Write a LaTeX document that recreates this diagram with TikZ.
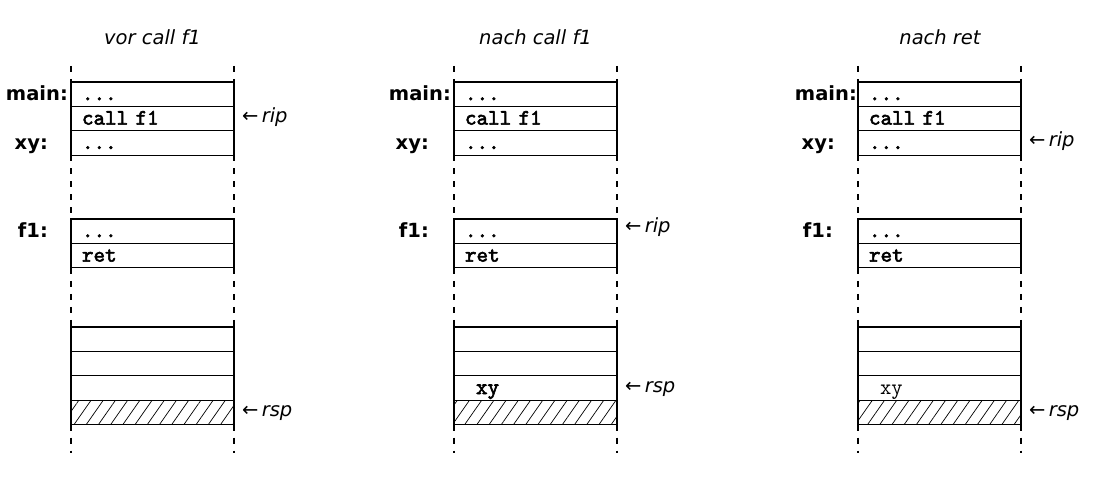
\documentclass[tikz,border=0pt]{standalone}
\usepackage{fontspec}
\setmainfont{DejaVu Sans}
\newfontfamily\codebf{lmmono10-regular}[Extension=.otf, FakeBold=2.6]
\usetikzlibrary{positioning,patterns.meta}
\newcommand\codefont{\fontsize{22pt}{24pt}\selectfont\codebf}
\newcommand\codereg{\fontsize{22pt}{24pt}\selectfont\ttfamily}
\newcommand\lblfont{\fontsize{19.5pt}{22pt}\selectfont\bfseries}
\newcommand\ptrfont{\fontsize{19.5pt}{22pt}\selectfont}
\newcommand\ptrtext[1]{←\,\textit{#1}}
\begin{document}
\begin{tikzpicture}[x=1pt,y=-1pt,
 row/.style={draw, line width=1.1pt, minimum width=163pt, minimum height=24.4pt,
   text width=141pt, inner xsep=11pt, inner ysep=0pt, outer sep=0pt, align=left,
   text height=15pt, text depth=3pt, font=\codefont},
 hatched/.style={row, pattern={Lines[angle=55,distance=10pt,line width=0.7pt]}},
 lbl/.style={font=\lblfont, inner sep=0pt, anchor=base east},
 ptr/.style={font=\ptrfont, inner sep=0pt, anchor=base west},
 ttl/.style={font=\ptrfont\itshape, inner sep=0pt, anchor=base},
 guide/.style={line width=1.1pt, dash pattern=on 6pt off 7pt}]
\useasboundingbox (0,0) rectangle (1102,478);

% ---------- column A: vor call f1 ----------
\node[ttl] (atitle) at (152.5,45) {vor call f1};
\node[row] (amain) at (152.5,94.2) {...};
\node[row, below=0pt of amain] (acall) {call f1};
\node[row, below=0pt of acall] (axy) {...};
\node[row] (af1) at (152.5,231.2) {...};
\node[row, below=0pt of af1] (aret) {ret};
\node[row] (as1) at (152.5,339.2) {};
\node[row, below=0pt of as1] (as2) {};
\node[row, below=0pt of as2] (as3) {};
\node[hatched, below=0pt of as3] (as4) {};
\coordinate (atl) at (71,66);
\coordinate (atr) at (234,66);
\coordinate (abl) at (71,453);
\coordinate (abr) at (234,453);
\draw[guide] (atl) -- (amain.north west);
\draw[guide] (atr) -- (amain.north east);
\draw[guide] (axy.south west) -- (af1.north west);
\draw[guide] (axy.south east) -- (af1.north east);
\draw[guide] (aret.south west) -- (as1.north west);
\draw[guide] (aret.south east) -- (as1.north east);
\draw[guide] (as4.south west) -- (abl);
\draw[guide] (as4.south east) -- (abr);
\node[lbl] (alm) at ([xshift=-3pt,yshift=-6.5pt]amain.west) {main:};
\node[lbl] (alx) at ([xshift=-23pt,yshift=-6.5pt]axy.west) {xy:};
\node[lbl] (alf) at ([xshift=-23pt,yshift=-6pt]af1.west) {f1:};
\node[ptr] (arip) at ([xshift=8pt,yshift=-4pt]acall.east) {\ptrtext{rip}};
\node[ptr] (arsp) at ([xshift=8pt,yshift=-4pt]as4.east) {\ptrtext{rsp}};

% ---------- column B: nach call f1 ----------
\node[ttl] (btitle) at (535.5,45) {nach call f1};
\node[row] (bmain) at (535.5,94.2) {...};
\node[row, below=0pt of bmain] (bcall) {call f1};
\node[row, below=0pt of bcall] (bxy) {...};
\node[row] (bf1) at (535.5,231.2) {...};
\node[row, below=0pt of bf1] (bret) {ret};
\node[row] (bs1) at (535.5,339.2) {};
\node[row, below=0pt of bs1] (bs2) {};
\node[row, below=0pt of bs2] (bs3) {\hspace*{11pt}xy};
\node[hatched, below=0pt of bs3] (bs4) {};
\coordinate (btl) at (454,66);
\coordinate (btr) at (617,66);
\coordinate (bbl) at (454,453);
\coordinate (bbr) at (617,453);
\draw[guide] (btl) -- (bmain.north west);
\draw[guide] (btr) -- (bmain.north east);
\draw[guide] (bxy.south west) -- (bf1.north west);
\draw[guide] (bxy.south east) -- (bf1.north east);
\draw[guide] (bret.south west) -- (bs1.north west);
\draw[guide] (bret.south east) -- (bs1.north east);
\draw[guide] (bs4.south west) -- (bbl);
\draw[guide] (bs4.south east) -- (bbr);
\node[lbl] (blm) at ([xshift=-3pt,yshift=-6.5pt]bmain.west) {main:};
\node[lbl] (blx) at ([xshift=-25pt,yshift=-6.5pt]bxy.west) {xy:};
\node[lbl] (blf) at ([xshift=-25pt,yshift=-6pt]bf1.west) {f1:};
\node[ptr] (brip) at ([xshift=8pt,yshift=-1pt]bf1.east) {\ptrtext{rip}};
\node[ptr] (brsp) at ([xshift=8pt,yshift=-4pt]bs3.east) {\ptrtext{rsp}};

% ---------- column C: nach ret ----------
\node[ttl] (ctitle) at (940,45) {nach ret};
\node[row] (cmain) at (939.5,94.2) {...};
\node[row, below=0pt of cmain] (ccall) {call f1};
\node[row, below=0pt of ccall] (cxy) {...};
\node[row] (cf1) at (939.5,231.2) {...};
\node[row, below=0pt of cf1] (cret) {ret};
\node[row] (cs1) at (939.5,339.2) {};
\node[row, below=0pt of cs1] (cs2) {};
\node[row, below=0pt of cs2, font=\codereg] (cs3) {\hspace*{11pt}xy};
\node[hatched, below=0pt of cs3] (cs4) {};
\coordinate (ctl) at (858,66);
\coordinate (ctr) at (1021,66);
\coordinate (cbl) at (858,453);
\coordinate (cbr) at (1021,453);
\draw[guide] (ctl) -- (cmain.north west);
\draw[guide] (ctr) -- (cmain.north east);
\draw[guide] (cxy.south west) -- (cf1.north west);
\draw[guide] (cxy.south east) -- (cf1.north east);
\draw[guide] (cret.south west) -- (cs1.north west);
\draw[guide] (cret.south east) -- (cs1.north east);
\draw[guide] (cs4.south west) -- (cbl);
\draw[guide] (cs4.south east) -- (cbr);
\node[lbl] (clm) at ([xshift=-1pt,yshift=-6.5pt]cmain.west) {main:};
\node[lbl] (clx) at ([xshift=-23pt,yshift=-6.5pt]cxy.west) {xy:};
\node[lbl] (clf) at ([xshift=-25pt,yshift=-6pt]cf1.west) {f1:};
\node[ptr] (crip) at ([xshift=8pt,yshift=-4pt]cxy.east) {\ptrtext{rip}};
\node[ptr] (crsp) at ([xshift=8pt,yshift=-4pt]cs4.east) {\ptrtext{rsp}};
\end{tikzpicture}
\end{document}
